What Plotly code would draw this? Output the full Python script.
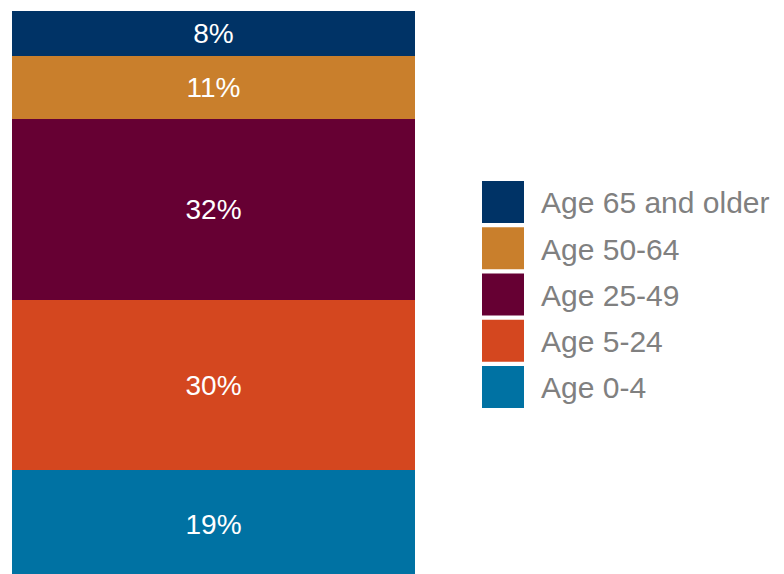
import plotly.graph_objects as go

# Data (bottom to top of the stack)
categories = ["Age 0-4", "Age 5-24", "Age 25-49", "Age 50-64", "Age 65 and older"]
values = [19, 30, 32, 11, 8]
colors = ["#0072A3", "#D4471F", "#660033", "#C97F2C", "#003366"]
bar_label = ["All"]

W, H = 784, 574
ML, MR, MT, MB = 12, 369, 11, 0
PW, PH = W - ML - MR, H - MT - MB

fig = go.Figure()
for cat, val, col in zip(categories, values, colors):
    fig.add_trace(go.Bar(
        x=bar_label, y=[val], name=cat,
        marker=dict(color=col, line=dict(width=0)),
        text=[f"{val}%"], textposition="inside", insidetextanchor="middle",
        textfont=dict(color="white", size=28, family="Liberation Sans"),
        width=1, showlegend=False, hoverinfo="name+y",
    ))

# Custom legend with large square swatches (top item first)
def px_x(px):
    return (px - ML) / PW

def px_y(py):
    return (H - MB - py) / PH

sw_x0, sw_size, first_top, pitch = 482, 42, 181, 46.25
shapes, annotations = [], []
for i, (cat, col) in enumerate(zip(categories[::-1], colors[::-1])):
    top = first_top + i * pitch
    shapes.append(dict(type="rect", xref="paper", yref="paper",
                       x0=px_x(sw_x0), x1=px_x(sw_x0 + sw_size),
                       y0=px_y(top + sw_size), y1=px_y(top),
                       fillcolor=col, line=dict(width=0)))
    annotations.append(dict(xref="paper", yref="paper",
                            x=px_x(539), y=px_y(top + sw_size / 2 + 1),
                            xanchor="left", yanchor="middle", showarrow=False,
                            text=cat, font=dict(size=30, color="#808080",
                                                family="Liberation Sans")))

fig.update_layout(
    width=W, height=H,
    margin=dict(l=ML, r=MR, t=MT, b=MB),
    barmode="stack", bargap=0,
    plot_bgcolor="white", paper_bgcolor="white",
    xaxis=dict(visible=False, range=[-0.5, 0.5]),
    # bottom of the bar runs slightly past the picture's lower edge
    yaxis=dict(visible=False, range=[0.7, 100]),
    shapes=shapes, annotations=annotations,
    uniformtext=dict(mode=False),
    showlegend=False,
)

fig.write_html("out.html", config={"displayModeBar": False},
               post_script="document.body.style.margin='0px';document.body.style.overflow='hidden';")
